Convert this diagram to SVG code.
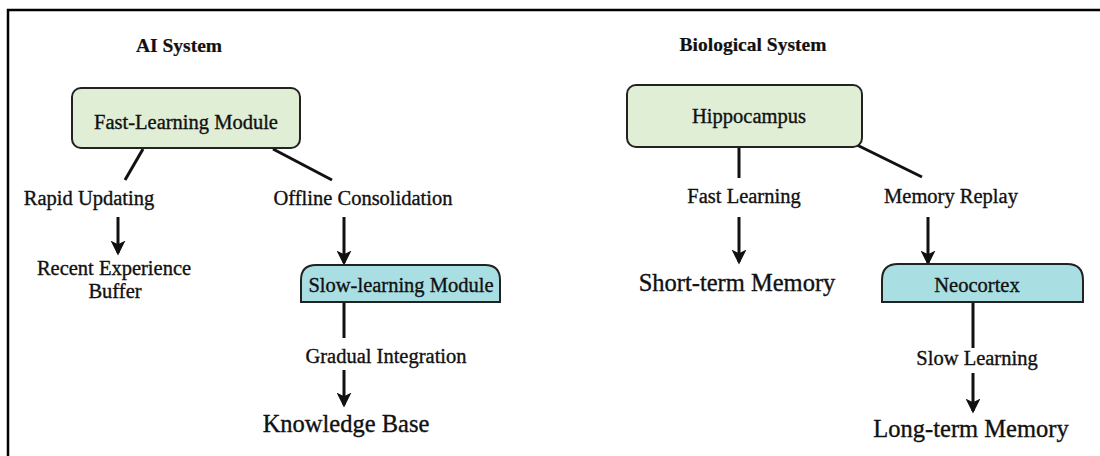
<svg xmlns="http://www.w3.org/2000/svg" width="1100" height="456" viewBox="0 0 1100 456">
<defs>
<style>
text{font-family:"Liberation Serif","Times New Roman",serif;fill:#111;stroke:#111;stroke-width:0.35;text-anchor:middle}
.h{font-size:19.5px;font-weight:bold;stroke-width:0.2}
.t{font-size:20.5px}
.b{font-size:24.5px}
.green{fill:#e0eed6;stroke:#222;stroke-width:2}
.blue{fill:#a9dfe3;stroke:#222;stroke-width:2}
.ln{stroke:#111;stroke-width:3;fill:none}
.ar{stroke:#111;stroke-width:3;fill:none;marker-end:url(#ah)}
</style>
<marker id="ah" viewBox="0 0 12 12" refX="10" refY="6" markerWidth="5" markerHeight="5" orient="auto" markerUnits="strokeWidth">
<path d="M0,0 L12,6 L0,12 L3,6 z" fill="#111"/>
</marker>
</defs>
<rect width="1100" height="456" fill="#fff"/>
<path d="M8,456 V10 H1100" fill="none" stroke="#000" stroke-width="2.5"/>

<g id="titles">
<text class="h" x="179" y="52">AI System</text>
<text class="h" x="753" y="51">Biological System</text>
</g>

<g id="connectors">
<line class="ln" x1="143" y1="149" x2="125" y2="180"/>
<line class="ln" x1="273" y1="149" x2="332" y2="180"/>
<line class="ar" x1="118" y1="217" x2="118" y2="253"/>
<line class="ar" x1="344" y1="217" x2="344" y2="263"/>
<line class="ln" x1="344" y1="302" x2="344" y2="338"/>
<line class="ar" x1="344" y1="370" x2="344" y2="405"/>
<line class="ln" x1="739" y1="147" x2="739" y2="178"/>
<line class="ln" x1="857" y1="145" x2="922" y2="177"/>
<line class="ar" x1="739" y1="217" x2="739" y2="262"/>
<line class="ar" x1="928" y1="217" x2="928" y2="263"/>
<line class="ln" x1="973" y1="302" x2="973" y2="348"/>
<line class="ar" x1="973" y1="373" x2="973" y2="411"/>
</g>

<g id="fast-learning">
<rect class="green" x="72" y="88" width="228" height="60" rx="9"/>
<text class="t" x="186" y="129">Fast-Learning Module</text>
</g>
<g id="rapid-updating"><text class="t" x="89" y="205">Rapid Updating</text></g>
<g id="offline-consolidation"><text class="t" x="363" y="205">Offline Consolidation</text></g>
<g id="recent-buffer">
<text class="t" x="114" y="275">Recent Experience</text>
<text class="t" x="115" y="298">Buffer</text>
</g>
<g id="slow-learning">
<path class="blue" d="M301,302 V280 Q301,265 316,265 H485 Q500,265 500,280 V302 Z"/>
<text class="t" x="401" y="292">Slow-learning Module</text>
</g>
<g id="gradual-integration"><text class="t" x="386" y="363">Gradual Integration</text></g>
<g id="knowledge-base"><text class="b" x="346" y="432">Knowledge Base</text></g>

<g id="hippocampus">
<rect class="green" x="627" y="85" width="235" height="62" rx="9"/>
<text class="t" x="749" y="123">Hippocampus</text>
</g>
<g id="fast-learning-label"><text class="t" x="744" y="203">Fast Learning</text></g>
<g id="memory-replay"><text class="t" x="951" y="203">Memory Replay</text></g>
<g id="short-term"><text class="b" x="737" y="291">Short-term Memory</text></g>
<g id="neocortex">
<path class="blue" d="M882,302 V280 Q882,264 898,264 H1067 Q1083,264 1083,280 V302 Z"/>
<text class="t" x="977" y="292">Neocortex</text>
</g>
<g id="slow-learning-label"><text class="t" x="977" y="365">Slow Learning</text></g>
<g id="long-term"><text class="b" x="971" y="437">Long-term Memory</text></g>
</svg>
